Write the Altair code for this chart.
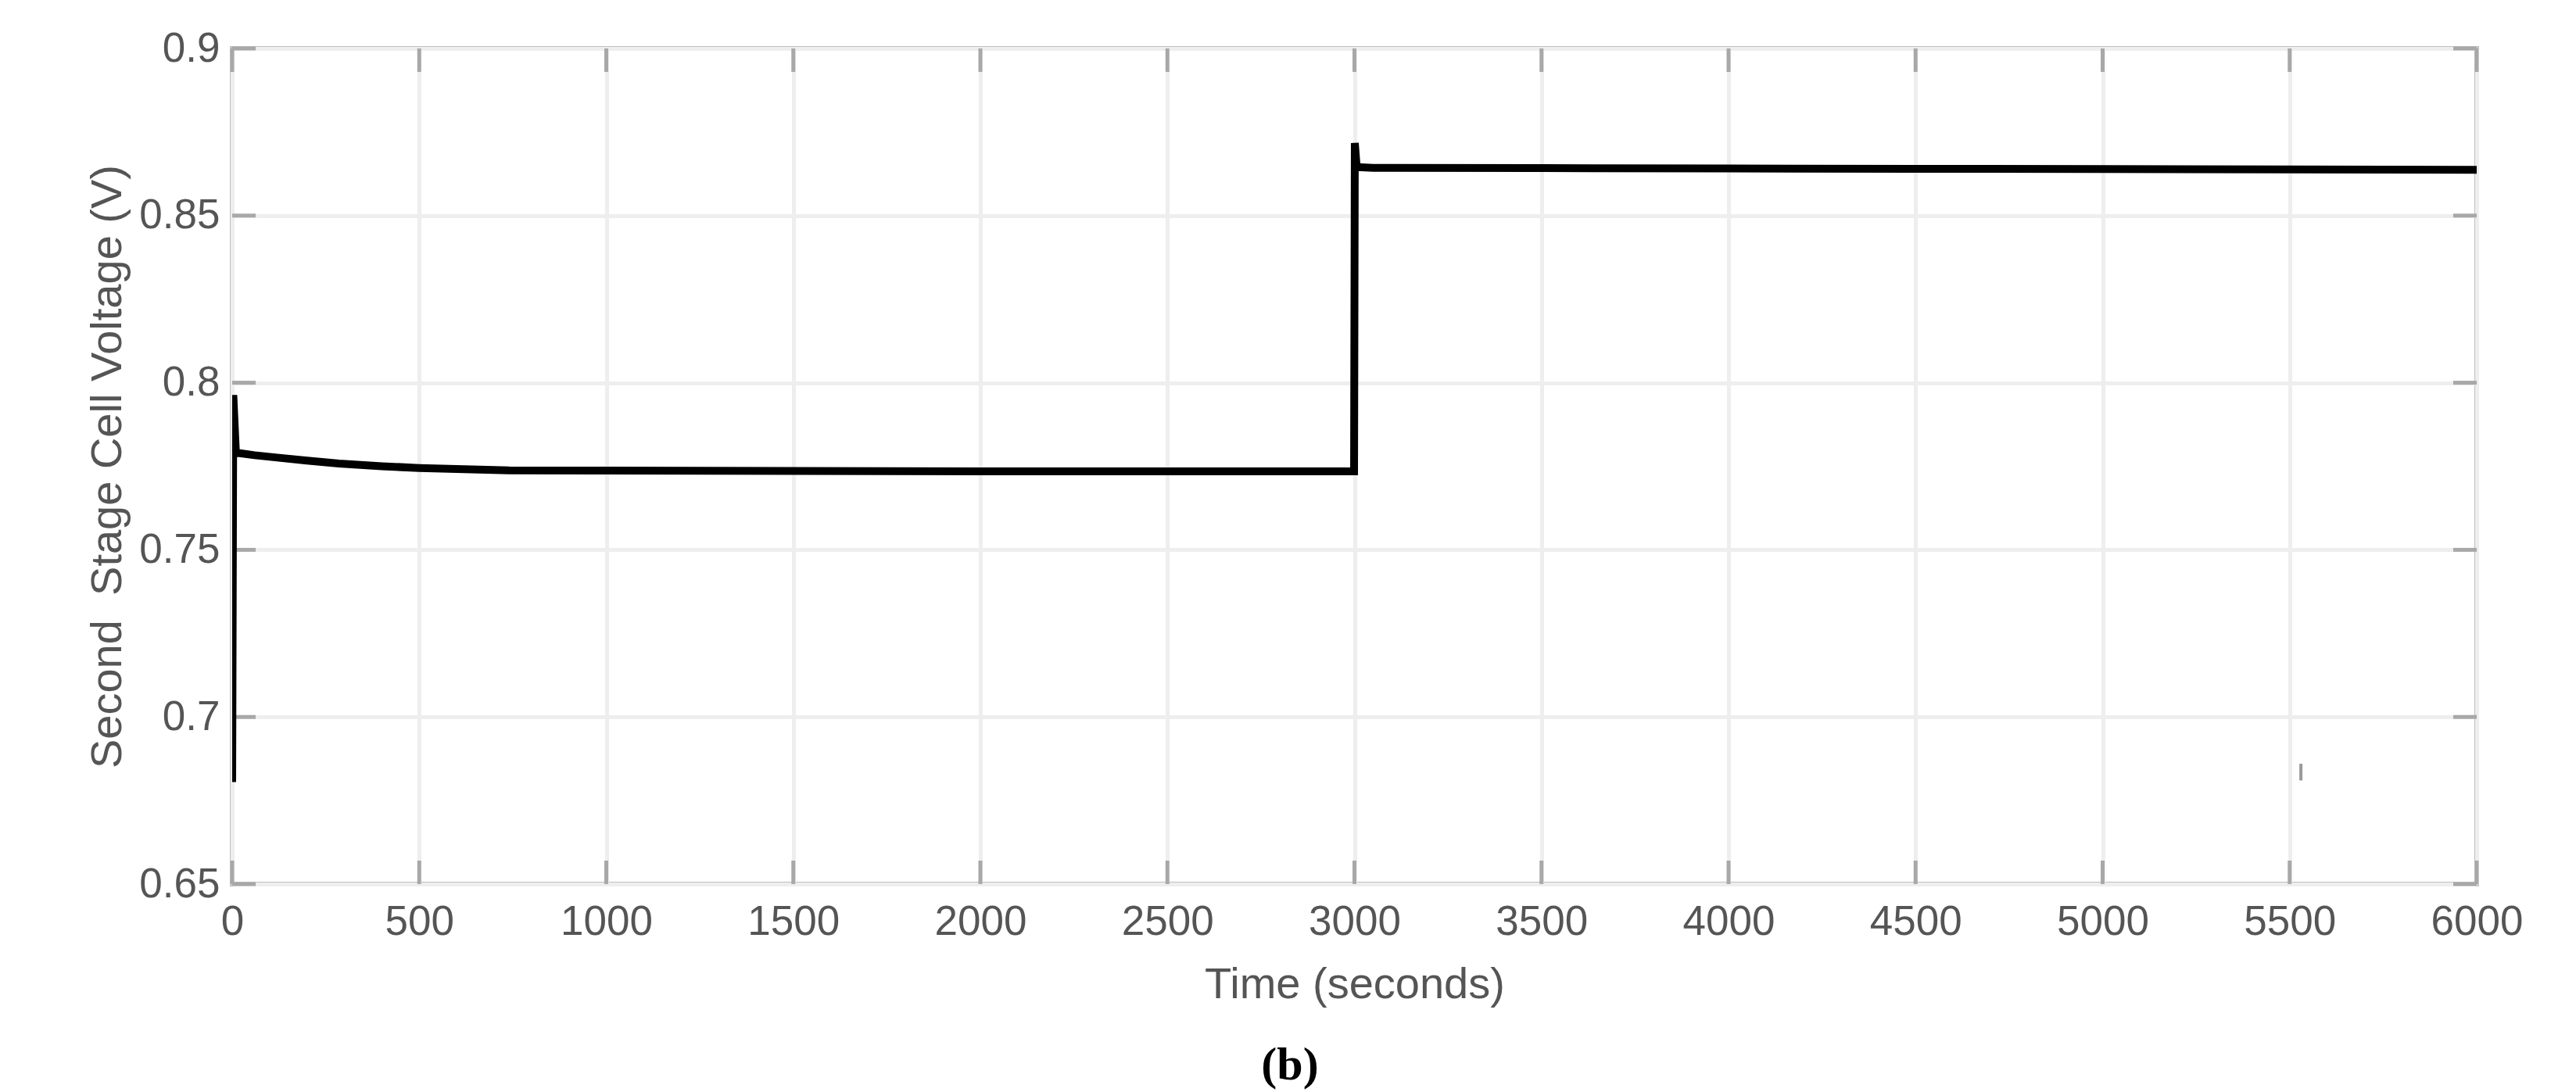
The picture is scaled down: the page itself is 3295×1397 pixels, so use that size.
import altair as alt
import pandas as pd

# ---- data ----
time_s = [0, 3, 10, 20, 60, 120, 200, 285, 400, 500, 740, 1000, 1500, 2000,
          2500, 2999, 3001, 3006, 3050, 3500, 4000, 4500, 5000, 5500, 6000]
voltage = [0.6805, 0.7963, 0.7790, 0.7789, 0.7783, 0.7776, 0.7767, 0.7758,
           0.7750, 0.7745, 0.7738, 0.7737, 0.7736, 0.7735, 0.7735, 0.7735,
           0.8717, 0.8645, 0.8643, 0.8642, 0.8641, 0.8640, 0.8639, 0.8638,
           0.8637]

x_ticks = [0, 500, 1000, 1500, 2000, 2500, 3000, 3500, 4000, 4500, 5000, 5500, 6000]
y_ticks = [0.65, 0.7, 0.75, 0.8, 0.85, 0.9]

# small stray mark visible in the reference near t = 5530
stray_t = [5530]
stray_lo = [0.681]
stray_hi = [0.686]

caption = ["(b)"]

W, H = 2871, 1069
TICK = 30
FONT = "Liberation Sans"

df = pd.DataFrame({"t": time_s, "v": voltage})
xt = pd.DataFrame({"t": x_ticks})
yt = pd.DataFrame({"v": y_ticks})
stray = pd.DataFrame({"t": stray_t, "lo": stray_lo, "hi": stray_hi})
cap = pd.DataFrame({"c": caption})

xscale = alt.Scale(domain=[0, 6000], nice=False, zero=False)
yscale = alt.Scale(domain=[0.65, 0.9], nice=False, zero=False)

xaxis = alt.Axis(values=x_ticks, format="d", title="Time (seconds)",
                 ticks=False, domain=False, grid=True,
                 gridColor="#eeeeee", gridWidth=5,
                 labelFont=FONT, labelFontSize=53, labelColor="#555555",
                 labelPadding=22, labelFlush=False,
                 titleFont=FONT, titleFontSize=56, titleFontWeight="normal",
                 titleColor="#555555", titleX=W / 2, titleY=128,
                 titleBaseline="middle", titleAlign="center")
yaxis = alt.Axis(values=y_ticks, format=".2~f",
                 title="Second \u00a0Stage Cell Voltage (V)",
                 ticks=False, domain=False, grid=True,
                 gridColor="#eeeeee", gridWidth=5,
                 labelFont=FONT, labelFontSize=53, labelColor="#555555",
                 labelPadding=16, labelFlush=False,
                 titleFont=FONT, titleFontSize=56, titleFontWeight="normal",
                 titleColor="#555555", titleX=-160, titleY=H / 2,
                 titleAngle=270, titleBaseline="middle", titleAlign="center")

base_line = alt.Chart(df).mark_line(color="black", strokeWidth=10, clip=True).encode(
    x=alt.X("t:Q", scale=xscale, axis=xaxis),
    y=alt.Y("v:Q", scale=yscale, axis=yaxis),
)

tick_color = "#a8a8a8"
# inward ticks on all four sides (MATLAB style box)
ticks_bottom = alt.Chart(xt).mark_rule(color=tick_color, strokeWidth=5).encode(
    x=alt.X("t:Q", scale=xscale), y=alt.value(H), y2=alt.value(H - TICK))
ticks_top = alt.Chart(xt).mark_rule(color=tick_color, strokeWidth=5).encode(
    x=alt.X("t:Q", scale=xscale), y=alt.value(0), y2=alt.value(TICK))
ticks_left = alt.Chart(yt).mark_rule(color=tick_color, strokeWidth=5).encode(
    y=alt.Y("v:Q", scale=yscale), x=alt.value(0), x2=alt.value(TICK))
ticks_right = alt.Chart(yt).mark_rule(color=tick_color, strokeWidth=5).encode(
    y=alt.Y("v:Q", scale=yscale), x=alt.value(W), x2=alt.value(W - TICK))

stray_mark = alt.Chart(stray).mark_rule(color="#9a9a9a", strokeWidth=4).encode(
    x=alt.X("t:Q", scale=xscale), y=alt.Y("lo:Q", scale=yscale), y2="hi:Q")

caption_mark = alt.Chart(cap).mark_text(
    font="Liberation Serif", fontSize=60, fontWeight="bold", color="black",
    align="center", baseline="alphabetic").encode(
    text="c:N", x=alt.value(1353), y=alt.value(1319))

chart = alt.layer(
    ticks_bottom, ticks_top, ticks_left, ticks_right,
    stray_mark, base_line, caption_mark
).properties(
    width=W, height=H,
    autosize=alt.AutoSizeParams(type="none"),
    padding={"left": 289, "top": 54, "right": 119, "bottom": 266},
    background="white",
).configure_view(
    stroke="#bfbfbf", strokeWidth=6
)

chart.save("out.html", embed_options={"renderer": "svg", "actions": False})
